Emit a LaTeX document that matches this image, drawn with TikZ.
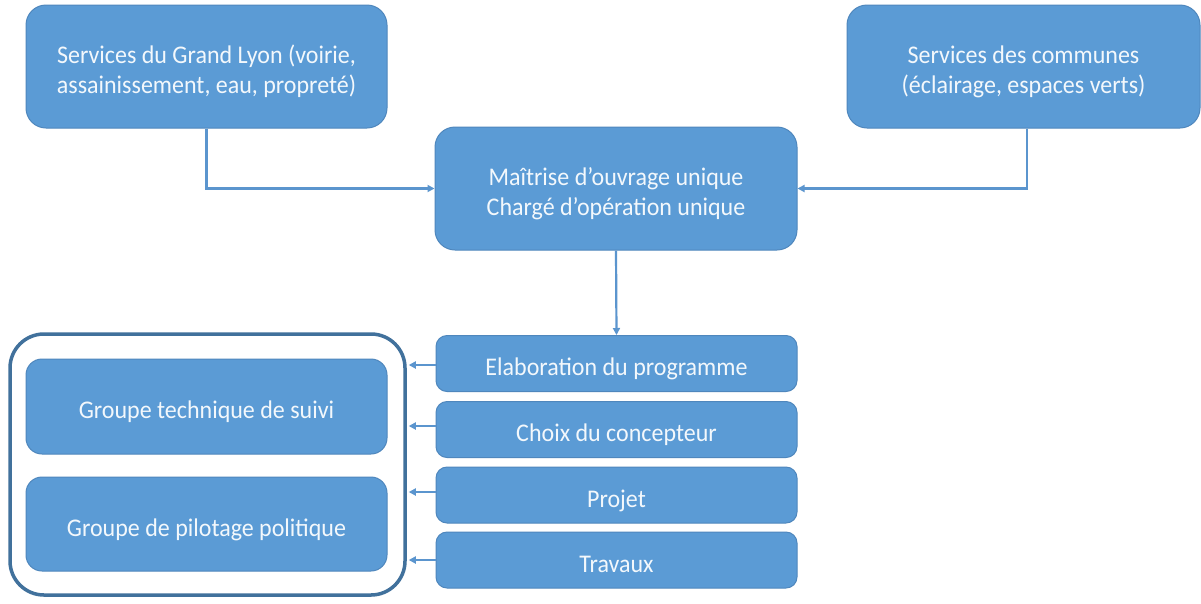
\documentclass[tikz,border=0pt]{standalone}
\usepackage{fontspec}
\usepackage{graphicx}
\setmainfont{Carlito}
\usetikzlibrary{arrows.meta}
\definecolor{boxfill}{HTML}{5B9BD5}
\definecolor{boxedge}{HTML}{4F87BD}
\definecolor{outl}{HTML}{41719C}
\definecolor{linec}{HTML}{5B95CE}
\definecolor{txtc}{HTML}{F3F8FC}
\newcommand\vtxt[1]{\raisebox{-6pt}[\height][\depth]{\scalebox{1}[1.06]{\begin{tabular}{@{}c@{}}#1\end{tabular}}}}
\begin{document}
\begin{tikzpicture}[x=1pt,y=-1pt,
  bluebox/.style={fill=boxfill,draw=boxedge,line width=1pt,text=txtc,
    font=\fontsize{24}{28.3}\selectfont,align=center,inner sep=0pt},
  bigbox/.style={bluebox,rounded corners=20pt,minimum width=361pt,minimum height=123pt},
  stepbox/.style={bluebox,rounded corners=11pt,minimum width=361pt,minimum height=56pt},
  grpbox/.style={bluebox,rounded corners=16pt,minimum width=361pt,minimum height=95pt},
  conn/.style={draw=linec,line width=2.2pt,-{Triangle[length=7pt,width=7pt]}}]
\useasboundingbox (0,0) rectangle (1201,603);
\fill[white] (0,0) rectangle (1201,603);
% top
\node[bigbox] (gl) at (206.5,66.5) {\vtxt{Services du Grand Lyon (voirie,\\assainissement, eau, propreté)}};
\node[bigbox,minimum width=353pt] (sc) at (1023.5,66.5) {\vtxt{Services des communes\\(éclairage, espaces verts)}};
\node[bigbox,minimum width=362pt] (mo) at (616,188.5) {\vtxt{Maîtrise d’ouvrage unique\\Chargé d’opération unique}};
% steps
\node[stepbox] (el) at (616.5,363.5) {\vtxt{Elaboration du programme}};
\node[stepbox] (ch) at (616.5,429.5) {\vtxt{Choix du concepteur}};
\node[stepbox] (pr) at (616.5,495) {\vtxt{Projet}};
\node[stepbox] (tr) at (616.5,560) {\vtxt{Travaux}};
% groups
\node[draw=outl,line width=3.5pt,rounded corners=34pt,minimum width=395pt,minimum height=261pt,inner sep=0pt] (ou) at (207.5,464.5) {};
\node[grpbox] (gt) at (206.5,406.5) {\vtxt{Groupe technique de suivi}};
\node[grpbox,minimum height=94pt] (gp) at (206.5,524) {\vtxt{Groupe de pilotage politique}};
% connectors
\draw[conn] (gl.south) |- (mo.west);
\draw[conn] ([xshift=3.5pt]sc.south) |- (mo.east);
\draw[conn] (mo.south) -- (el.north);
\draw[conn,shorten >=2pt] ([yshift=-1.5pt]el.west) -- ([yshift=-1.5pt]el.west -| ou.east);
\draw[conn,shorten >=2pt] ([yshift=3.5pt]ch.west) -- ([yshift=3.5pt]ch.west -| ou.east);
\draw[conn,shorten >=2pt] ([yshift=3pt]pr.west) -- ([yshift=3pt]pr.west -| ou.east);
\draw[conn,shorten >=2pt] (tr.west) -- (tr.west -| ou.east);
\end{tikzpicture}
\end{document}
